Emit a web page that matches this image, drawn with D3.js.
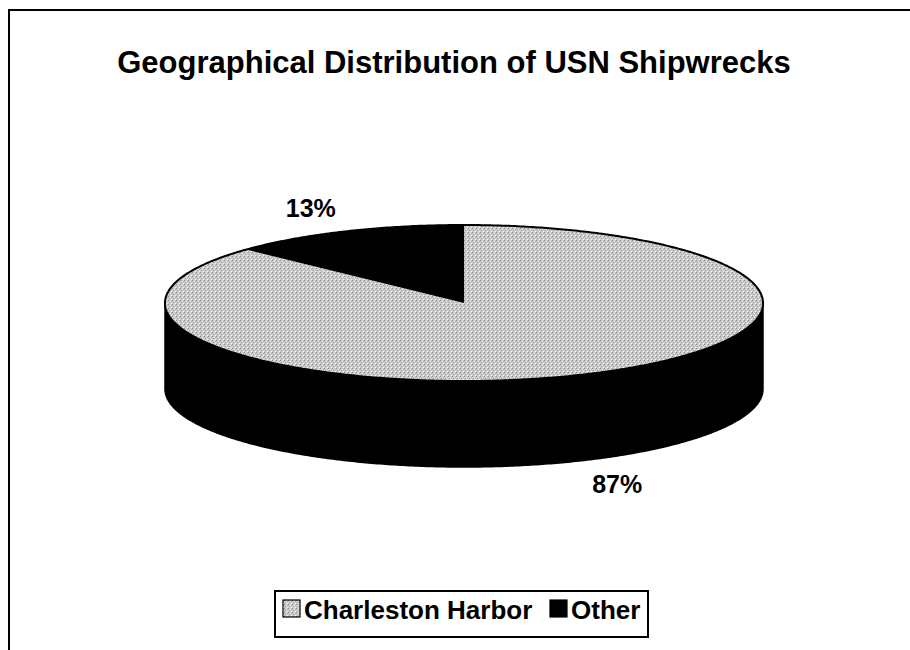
<!DOCTYPE html>
<html>
<head>
<meta charset="utf-8">
<script src="https://cdn.jsdelivr.net/npm/d3@7"></script>
<style>
  html, body { margin: 0; padding: 0; background: #fff; }
  svg { display: block; }
  text { font-family: Arial, "Liberation Sans", sans-serif; font-weight: bold; fill: #000; }
</style>
</head>
<body>
<svg id="chart" width="910" height="650"></svg>
<script>
///////////////////////////////////////////////////////////
// Data
const title = "Geographical Distribution of USN Shipwrecks";
const categories = ["Charleston Harbor", "Other"];
const values = [87, 13];
const topColors = ["url(#dither)", "#000"];
const sideColors = ["#000", "#000"];

///////////////////////////////////////////////////////////
// Setup
const svg = d3.select("#chart");
const cx = 464, cy = 303, rx = 299, ry = 78, depth = 86;

// dithered grey like the scanned original
const defs = svg.append("defs");
const pat = defs.append("pattern")
  .attr("id", "dither")
  .attr("patternUnits", "userSpaceOnUse")
  .attr("width", 4).attr("height", 4);
pat.append("rect").attr("width", 4).attr("height", 4).attr("fill", "#cdcdcd");
[[0, 0, "#8a8a8a"], [2, 1, "#eeeeee"], [1, 2, "#9a9a9a"], [3, 3, "#f4f4f4"], [3, 1, "#a8a8a8"]]
  .forEach(p => pat.append("rect").attr("x", p[0]).attr("y", p[1])
    .attr("width", 1).attr("height", 1).attr("fill", p[2]));

// frame (left + top only, the rest is cut off in the scan)
svg.append("path")
  .attr("d", "M9,650 L9,10 L910,10")
  .attr("fill", "none")
  .attr("stroke", "#000")
  .attr("stroke-width", 2);

// title
svg.append("text")
  .attr("x", 454)
  .attr("y", 73)
  .attr("text-anchor", "middle")
  .attr("font-size", 31)
  .text(title);

///////////////////////////////////////////////////////////
// 3D pie
const arcs = d3.pie().sort(null).value(d => d)(values);

function proj(a, z) {
  return [cx + rx * Math.sin(a), cy - ry * Math.cos(a) + z];
}
function arcPoints(a0, a1, z) {
  const n = Math.max(2, Math.ceil(Math.abs(a1 - a0) / 0.01));
  return d3.range(n + 1).map(i => proj(a0 + (a1 - a0) * i / n, z));
}
const line = d3.line();

// side walls (front half only)
arcs.forEach((d, i) => {
  const s = Math.max(d.startAngle, Math.PI / 2);
  const e = Math.min(d.endAngle, 3 * Math.PI / 2);
  if (e <= s) return;
  const pts = arcPoints(s, e, 0).concat(arcPoints(e, s, depth));
  svg.append("path")
    .attr("d", line(pts) + "Z")
    .attr("fill", sideColors[i])
    .attr("stroke", "#000")
    .attr("stroke-width", 1.5);
});

// top faces
arcs.forEach((d, i) => {
  const pts = [[cx, cy]].concat(arcPoints(d.startAngle, d.endAngle, 0));
  svg.append("path")
    .attr("d", line(pts) + "Z")
    .attr("fill", topColors[i]);
});

// rim outline
svg.append("path")
  .attr("d", line(arcPoints(0, 2 * Math.PI, 0)) + "Z")
  .attr("fill", "none")
  .attr("stroke", "#000")
  .attr("stroke-width", 2);

// percentage labels
const total = d3.sum(values);
arcs.forEach(d => {
  const mid = (d.startAngle + d.endAngle) / 2;
  const lx = cx + rx * 1.29 * Math.sin(mid);
  const ly = cy - ry * 1.33 * Math.cos(mid) + (Math.cos(mid) < 0 ? depth : 0);
  svg.append("text")
    .attr("x", lx)
    .attr("y", ly)
    .attr("text-anchor", "middle")
    .attr("dominant-baseline", "central")
    .attr("font-size", 25)
    .text(Math.round(d.value / total * 100) + "%");
});

///////////////////////////////////////////////////////////
// Legend
const legend = svg.append("g");
legend.append("rect")
  .attr("x", 275).attr("y", 591)
  .attr("width", 373).attr("height", 46)
  .attr("fill", "#fff")
  .attr("stroke", "#000")
  .attr("stroke-width", 2);

const legendX = [283, 550];
categories.forEach((c, i) => {
  legend.append("rect")
    .attr("x", legendX[i]).attr("y", 600)
    .attr("width", 17).attr("height", 17)
    .attr("fill", topColors[i])
    .attr("stroke", "#000")
    .attr("stroke-width", 1.2);
  legend.append("text")
    .attr("x", legendX[i] + 21)
    .attr("y", 619)
    .attr("font-size", 26)
    .text(c);
});
</script>
</body>
</html>
